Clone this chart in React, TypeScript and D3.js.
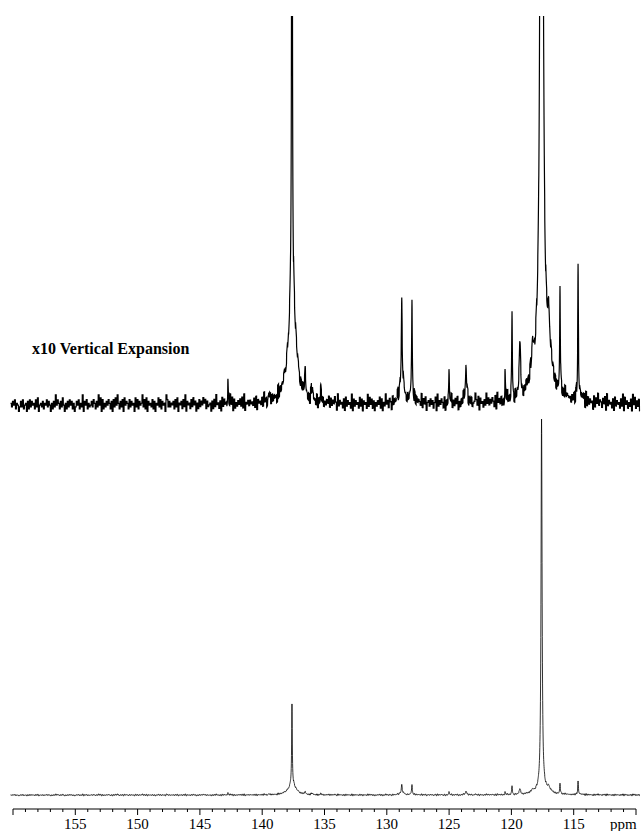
import React from "react";
import * as d3 from "d3";

// 13C spectrum, peak list (ppm, height in bottom-trace units, half width in ppm)
const peakPpm = [142.75, 139.5, 137.61, 137.6, 136.55, 136.0, 135.3, 128.8, 128.78, 127.98, 127.98, 125.0, 123.64, 123.6, 120.51, 119.95, 119.31, 118.3, 117.58, 117.5, 117.0, 116.1, 114.65, 114.6];
const peakHeight = [2.2, 0.8, 80, 11, 2.0, 1.2, 0.8, 6.5, 3.5, 8.5, 1.5, 3.3, 2.8, 0.8, 2.5, 8.8, 4.8, 2.5, 370, 6, 4, 10.3, 12, 0.8];
const peakWidth = [0.03, 0.05, 0.03, 0.35, 0.05, 0.05, 0.04, 0.035, 0.15, 0.03, 0.15, 0.03, 0.04, 0.2, 0.03, 0.03, 0.07, 0.1, 0.05, 0.6, 0.1, 0.03, 0.03, 0.2];

// baseline noise, one digit every 0.08 ppm from 160.2 ppm downwards (estimated from the x10 trace)
const noiseDigits = [
  "53647254136372451627364527381453625473641526394752638415263746251364725391647253",
  "46375263948172536475261738495263718465273645183726459372816453726154837264519736",
  "35462738154627391645273846152736485726345162739452618374526394817253647382915463",
  "64537281645372946135827364519273648527316452938475162738452619374528163947253648",
  "27364851936452718364529173645283716452938472615364827153946275183645927381645273",
  "54631827465392748156374625819364752816374592637481526394758163724596381745263947",
  "36475281946372518493627451836497251638472936451827364958172634958271634582739465",
  "45263718293647581927364518274936527481936452718364527391846253719482637154928374",
].join("");
const noiseLevel = [-1.0, -0.75, -0.5, -0.3, -0.12, 0.06, 0.25, 0.42, 0.6, 0.9];

const axisLabels = [155, 150, 145, 140, 135, 130, 125, 120, 115];
const expansionLabel = "x10 Vertical Expansion";

const W = 644, H = 831;
const serif = "Liberation Serif, DejaVu Serif, serif";

const x = d3.scaleLinear().domain([160, 110]).range([13, 636]);
const yTop = d3.scaleLinear().domain([0, 40]).range([404, 4]);
const yBot = d3.scaleLinear().domain([0, 400]).range([795, 395]);

const startPpm = 160.2;
const endPpm = 109.7;

function intensity(p: number, i: number) {
  let v = 0;
  for (let k = 0; k < peakPpm.length; k++) {
    const d = p - peakPpm[k];
    const w = peakWidth[k];
    v += (peakHeight[k] * w * w) / (w * w + d * d);
  }
  const n = noiseDigits.charCodeAt(Math.floor(i / 8) % noiseDigits.length) - 48;
  return v + noiseLevel[n];
}

const samples: [number, number][] = [];
for (let i = 0; Math.round((startPpm - i * 0.01) * 100) >= endPpm * 100; i++) {
  const p = startPpm - i * 0.01;
  samples.push([p, intensity(p, i)]);
}

export default function App() {
  const topLine = d3.line<[number, number]>().x(d => x(d[0])).y(d => yTop(d[1]));
  const botLine = d3.line<[number, number]>().x(d => x(d[0])).y(d => yBot(d[1]));
  const minor = d3.range(110, 161, 1);
  const axisY = 809;

  return (
    <svg width={W} height={H} style={{ position: "absolute", left: 0, top: 0, background: "#fff" }}>
      <defs>
        <clipPath id="topclip">
          <rect x={0} y={16} width={W} height={420} />
        </clipPath>
      </defs>
      <rect width={W} height={H} fill="#fff" />

      <text x={32} y={354} fontSize={16} fontWeight="bold" fontFamily={serif}>{expansionLabel}</text>

      <path d={topLine(samples) || ""} fill="none" stroke="#000" strokeWidth={1.2} clipPath="url(#topclip)" />
      <path d={botLine(samples) || ""} fill="none" stroke="#000" strokeWidth={0.8} />

      <g fontFamily={serif}>
        <line x1={x(160)} x2={x(110)} y1={axisY} y2={axisY} stroke="#000" strokeWidth={1} />
        {minor.map(t => (
          <line key={t} x1={x(t)} x2={x(t)} y1={axisY} y2={axisY + (t % 5 === 0 ? 6 : 3)} stroke="#000" strokeWidth={1} />
        ))}
        {axisLabels.map(t => (
          <text key={t} x={x(t)} y={829} fontSize={15} textAnchor="middle" fontFamily={serif}>{t}</text>
        ))}
        <text x={610} y={829} fontSize={15} fontFamily={serif}>ppm</text>
      </g>
    </svg>
  );
}
